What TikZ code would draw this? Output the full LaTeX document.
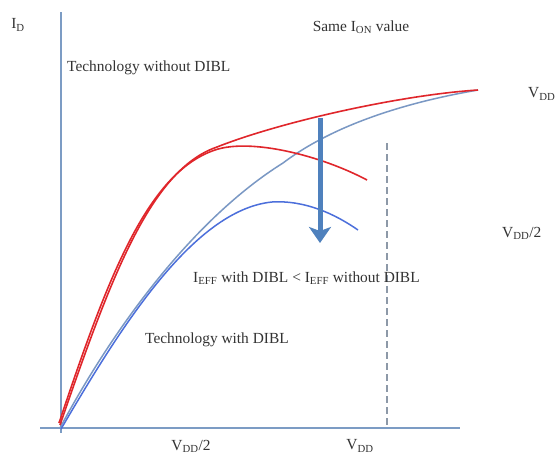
\documentclass[tikz,border=0pt]{standalone}
\usepackage{fontspec}
\setmainfont{Liberation Serif}
\usetikzlibrary{arrows.meta}
\definecolor{axisblue}{HTML}{7C9CC4}
\definecolor{curvered}{HTML}{E0262B}
\definecolor{grayblue}{HTML}{7A98C4}
\definecolor{brightblue}{HTML}{4C6FDB}
\definecolor{arrowblue}{HTML}{4F81BD}
\definecolor{dashgray}{HTML}{8D99A8}
\definecolor{txt}{HTML}{333333}
\begin{document}
\begin{tikzpicture}[x=1pt,y=-1pt,
  lbl/.style={text=txt,font=\fontsize{15.4}{18}\selectfont,inner sep=0pt},
  axisline/.style={axisblue,line width=2pt},
  redcurve/.style={curvered,line width=1.6pt},
  graycurve/.style={grayblue,line width=1.5pt},
  bluecurve/.style={brightblue,line width=1.5pt},
  bigarrow/.style={arrowblue,line width=5pt,-{Stealth[width=22pt,length=16pt,inset=4pt]}},
  dashline/.style={dashgray,line width=1.3pt,dash pattern=on 7pt off 4pt}]
\useasboundingbox[fill=white] (0,0) rectangle (556,456);
% axes
\draw[axisline] (61,12) -- (61,433);
\draw[axisline] (40,428) -- (460,428);
% dashed VDD line
\draw[dashline] (387,143) -- (387,428);
% blue curves (with DIBL)
\draw[graycurve] (60,428) .. controls (115,325) and (195,218) .. (283,163)
  .. controls (340,120) and (420,100) .. (478,90);
\draw[bluecurve] (61,429) .. controls (118,332) and (192,210) .. (272,202)
  .. controls (305,200) and (335,214) .. (358,230);
% red curves (without DIBL)
\draw[redcurve] (60,425) .. controls (110,280) and (150,170) .. (217,147)
  .. controls (280,122) and (400,95) .. (478,90);
\draw[redcurve] (59,423) .. controls (106,283) and (146,173) .. (215,150)
  .. controls (250,138) and (320,155) .. (367,180);
% arrow
\draw[bigarrow] (320,118) -- (320,243);
% labels
\node[lbl] (iD) at (18,25) {I\textsubscript{D}};
\node[lbl,anchor=west] (without) at (67,68) {Technology without DIBL};
\node[lbl] (ion) at (361,27) {Same I\textsubscript{ON} value};
\node[lbl,anchor=west] (vddr) at (528,94) {V\textsubscript{DD}};
\node[lbl,anchor=west] (vddhalfr) at (502,233) {V\textsubscript{DD}/2};
\node[lbl,anchor=west] (ieff) at (193,278) {I\textsubscript{EFF} with DIBL < I\textsubscript{EFF} without DIBL};
\node[lbl,anchor=west] (with) at (145,340) {Technology with DIBL};
\node[lbl] (vddhalfb) at (191,446) {V\textsubscript{DD}/2};
\node[lbl] (vddb) at (360,446) {V\textsubscript{DD}};
\end{tikzpicture}
\end{document}
